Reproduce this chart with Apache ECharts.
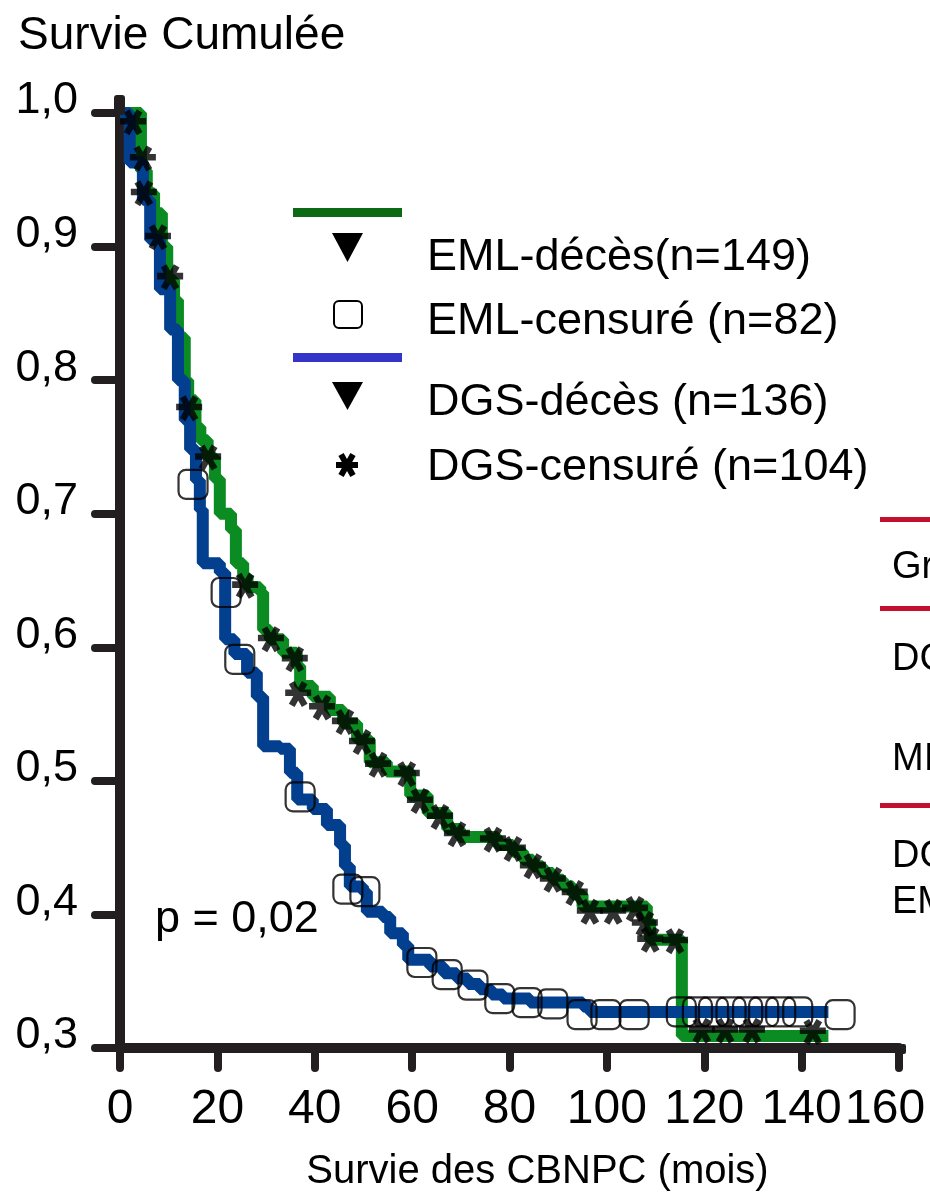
<!DOCTYPE html>
<html><head><meta charset="utf-8">
<script src="https://cdn.jsdelivr.net/npm/echarts@6/dist/echarts.min.js"></script>
<style>html,body{margin:0;padding:0;background:#fff}#c{width:930px;height:1197px}</style>
</head><body><div id="c"></div>
<script>
// ---- Data (months, cumulative survival) ----
const xTicks = [0, 20, 40, 60, 80, 100, 120, 140, 160];
const yTicks = [0.3, 0.4, 0.5, 0.6, 0.7, 0.8, 0.9, 1.0];

// EML curve (green) – Kaplan-Meier steps [time, survival]
const emlTimes = [0,4.3,5.5,7,8.6,9.7,11.1,11.9,13.3,14,15.5,16.5,18,19.5,20.5,22.8,23.8,25.3,26.2,28.8,29.4,30.8,33.5,36.3,37,39.6,43.1,45.8,48.7,51.3,54.8,59.6,63.2,67.2,69.8,77.5,80.7,82.8,84.8,86.8,88.9,91,93,95,108.2,108.9,115.4,145.5];
const emlSurv  = [1,0.957,0.94,0.925,0.90,0.875,0.86,0.832,0.80,0.785,0.765,0.755,0.742,0.726,0.70,0.688,0.663,0.653,0.645,0.641,0.613,0.606,0.596,0.586,0.571,0.563,0.553,0.543,0.531,0.514,0.507,0.489,0.476,0.464,0.458,0.452,0.447,0.441,0.436,0.431,0.426,0.421,0.415,0.406,0.395,0.381,0.309,0.309];

// DGS curve (blue)
const dgsTimes = [0,2,4.7,6.2,8.2,10.3,11.9,13.3,14.4,15.6,16.4,17,20.5,21.6,23.5,26.1,28.1,29.4,32.9,34.9,36.4,39.6,42.5,45.2,46.2,47.2,49.9,50.7,54,55.5,58.1,59.2,63.7,66.5,69.2,71.5,73.9,76.3,78.7,84.2,95.1,96.5,145.5];
const dgsSurv  = [1,0.963,0.935,0.905,0.868,0.838,0.80,0.77,0.748,0.725,0.703,0.663,0.656,0.606,0.595,0.581,0.563,0.526,0.524,0.506,0.486,0.479,0.467,0.452,0.436,0.421,0.417,0.402,0.398,0.386,0.377,0.366,0.361,0.356,0.352,0.348,0.344,0.340,0.337,0.334,0.331,0.327,0.327];

// censored marks drawn as squares (on blue curve)
const sqTimes = [15.0,21.8,24.6,37.0,46.8,50.3,62.0,67.2,72.5,78.0,83.6,88.9,94.9,99.8,105.6,115.3,118.6,121.9,125.5,128.9,132.2,135.7,139.2,147.9];
const sqSurv  = [0.722,0.641,0.591,0.488,0.419,0.417,0.364,0.355,0.347,0.337,0.334,0.333,0.325,0.325,0.325,0.327,0.327,0.327,0.327,0.327,0.327,0.327,0.327,0.325];

// censored marks drawn as asterisks (on green curve)
const astTimes = [2.7,4.7,4.9,7.8,10.3,14.2,18.1,25.7,31.0,35.9,36.6,41.5,46.2,49.7,53.0,58.9,61.6,65.7,69.2,76.6,80.7,84.8,88.9,93.4,96.5,101.3,105.8,107.8,108.9,114.0,119.5,124.3,129.8,142.3];
const astSurv  = [0.993,0.966,0.940,0.907,0.877,0.779,0.742,0.646,0.606,0.591,0.565,0.555,0.544,0.529,0.512,0.505,0.485,0.473,0.460,0.456,0.449,0.436,0.426,0.416,0.402,0.402,0.404,0.393,0.381,0.380,0.313,0.313,0.313,0.312];

const legendLabels = ['EML-décès(n=149)', 'EML-censuré (n=82)', 'DGS-décès (n=136)', 'DGS-censuré (n=104)'];
const sideLabels = ['Gr', 'DG', 'MI', 'DG', 'EM'];

// ---- build ----
const zip = (a, b) => a.map((v, i) => [v, b[i]]);
// asterisk: three thick bars at 0, 60, 120 degrees, all with the same winding
const ASTER = 'path://M0,0.75L2,0.75L2,1.25L0,1.25Z M0.717,0.100L1.717,1.832L1.283,2.082L0.283,0.350Z M1.717,0.350L0.717,2.082L0.283,1.832L1.283,0.100Z';
const AX = '#231f20';
const FONT = '"Liberation Sans", Arial, Helvetica, sans-serif';

const chart = echarts.init(document.getElementById('c'), null, {renderer: 'canvas'});
const txt = (t, x, y, size) => ({type: 'text', x: x, y: y, style: {text: t, font: size + 'px ' + FONT, fill: '#000', verticalAlign: 'middle', align: 'left'}});
const bar = (cx, cy, len, w, ang) => ({type: 'rect', x: cx, y: cy, rotation: ang * Math.PI / 180,
  shape: {x: -len / 2, y: -w / 2, width: len, height: w}, style: {fill: '#000'}});

chart.setOption({
  animation: false,
  backgroundColor: '#fff',
  title: {text: 'Survie Cumulée', left: 13, top: 8, textStyle: {fontFamily: FONT, fontSize: 46, fontWeight: 'normal', color: '#000'}},
  grid: {left: 120, right: 31, top: 113, bottom: 148, containLabel: false},
  xAxis: {
    type: 'value', min: 0, max: 160, interval: 20,
    name: 'Survie des CBNPC (mois)', nameLocation: 'middle', nameGap: 104,
    nameTextStyle: {fontFamily: FONT, fontSize: 40, color: '#000', padding: [0, 0, 0, 56]},
    axisLine: {show: true, lineStyle: {color: AX, width: 10}},
    axisTick: {show: true, inside: false, length: 20, lineStyle: {color: AX, width: 8, cap: 'round'}},
    splitLine: {show: false},
    axisLabel: {
      margin: 38, fontFamily: FONT, fontSize: 48, color: '#000',
      formatter: v => (xTicks.indexOf(v) >= 0 ? (v === 160 ? '{r|' + v + '}' : String(v)) : ''),
      rich: {r: {fontFamily: FONT, fontSize: 48, color: '#000', width: 108, align: 'left'}}
    }
  },
  yAxis: {
    type: 'value', min: 0.3, max: 1.0, interval: 0.1,
    axisLine: {show: true, lineStyle: {color: AX, width: 10}},
    axisTick: {show: true, inside: false, length: 25, lineStyle: {color: AX, width: 8, cap: 'round'}},
    splitLine: {show: false},
    axisLabel: {
      margin: 42, fontFamily: FONT, fontSize: 45, color: '#000',
      verticalAlign: 'bottom', lineHeight: 24,
      formatter: v => v.toFixed(1).replace('.', ',')
    }
  },
  graphic: [
    // axis line overshoots
    {type: 'rect', shape: {x: 114, y: 95, width: 11, height: 20, r: 3}, style: {fill: AX}, z: 100},
    {type: 'rect', shape: {x: 897, y: 1044, width: 9, height: 10, r: 2}, style: {fill: AX}, z: 100},
    // legend
    {type: 'rect', shape: {x: 293, y: 208, width: 109, height: 9}, style: {fill: '#0c6b12'}},
    {type: 'polygon', shape: {points: [[332, 233], [363, 233], [347.5, 262]]}, style: {fill: '#000'}},
    txt(legendLabels[0], 427, 258, 45),
    {type: 'rect', shape: {x: 334, y: 301, width: 28, height: 27, r: 5}, style: {fill: 'none', stroke: '#000', lineWidth: 2}},
    txt(legendLabels[1], 427, 322, 45),
    {type: 'rect', shape: {x: 293, y: 353, width: 109, height: 9}, style: {fill: '#3434c8'}},
    {type: 'polygon', shape: {points: [[332, 382], [363, 382], [347.5, 410]]}, style: {fill: '#000'}},
    txt(legendLabels[2], 427, 403, 45),
    bar(347, 465, 22, 6, 0), bar(347, 465, 24, 6, 60), bar(347, 465, 24, 6, 120),
    txt(legendLabels[3], 427, 468, 45),
    // p-value
    txt('p = 0,02', 155, 920, 45),
    // cropped side legend
    {type: 'rect', shape: {x: 880, y: 517, width: 60, height: 5}, style: {fill: '#c4102f'}},
    txt(sideLabels[0], 892, 568, 38),
    {type: 'rect', shape: {x: 880, y: 606, width: 60, height: 5}, style: {fill: '#c4102f'}},
    txt(sideLabels[1], 892, 660, 38),
    txt(sideLabels[2], 892, 760, 38),
    {type: 'rect', shape: {x: 880, y: 803, width: 60, height: 5}, style: {fill: '#c4102f'}},
    txt(sideLabels[3], 892, 857, 38),
    txt(sideLabels[4], 892, 903, 38)
  ],
  series: [
    {type: 'line', data: zip(emlTimes, emlSurv), step: 'end', symbol: 'none', z: 2,
     lineStyle: {color: '#0b8c22', width: 12}},
    {type: 'line', data: zip(dgsTimes, dgsSurv), step: 'end', symbol: 'none', z: 3,
     lineStyle: {color: '#023f8e', width: 12}},
    {type: 'scatter', data: zip(sqTimes, sqSurv), symbol: 'roundRect', symbolSize: 29, z: 4,
     itemStyle: {color: 'rgba(0,0,0,0)', borderColor: '#000', borderWidth: 2.2}},
    {type: 'scatter', data: zip(astTimes, astSurv), symbol: ASTER, symbolSize: [26, 26], z: 5,
     itemStyle: {color: '#000'}}
  ]
});
</script></body></html>
